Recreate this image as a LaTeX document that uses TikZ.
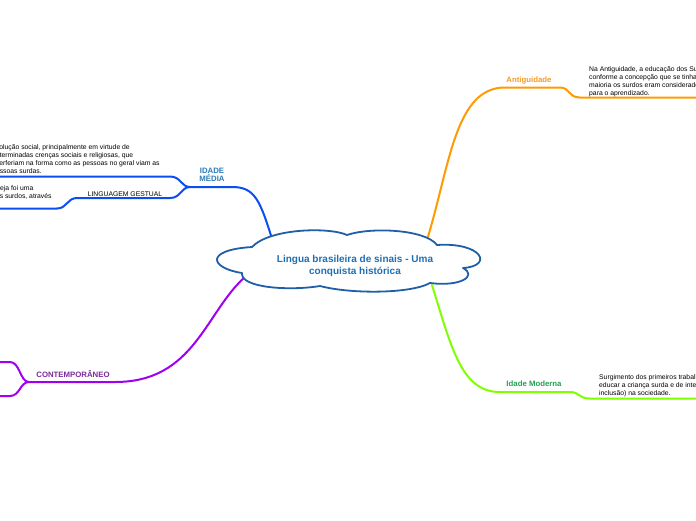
\documentclass[tikz,border=0pt]{standalone}
\usepackage{fontspec}
\setmainfont{Liberation Sans}
\definecolor{rootline}{HTML}{1F5FA8}
\definecolor{roottext}{HTML}{1F6FB5}
\definecolor{medline}{HTML}{0A4EF0}
\definecolor{medtext}{HTML}{2A7AB8}
\definecolor{antline}{HTML}{FF9A00}
\definecolor{anttext}{HTML}{F59A23}
\definecolor{modline}{HTML}{80FF00}
\definecolor{modtext}{HTML}{22A050}
\definecolor{conline}{HTML}{A000F0}
\definecolor{contxt}{HTML}{7A2A9A}

\begin{document}
\begin{tikzpicture}[x=1pt,y=-1pt,
    branch/.style={line width=2pt,line cap=round},
    note/.style={inner sep=0pt,anchor=north west,align=left,font=\fontsize{6.8}{8}\selectfont},
    topic/.style={inner sep=0pt,align=center,font=\bfseries\fontsize{7.8}{8.6}\selectfont}]
  \useasboundingbox (0,0) rectangle (696,520);

  % branch end points
  \coordinate (med-in) at (273,242);
  \coordinate (med-j) at (190,187);
  \coordinate (med-a) at (0,176.5);
  \coordinate (med-b) at (0,208.5);
  \coordinate (ant-in) at (427,240);
  \coordinate (ant-out) at (696,97.5);
  \coordinate (mod-in) at (432,285);
  \coordinate (mod-out) at (696,398.5);
  \coordinate (con-in) at (246,276);
  \coordinate (con-j) at (29,382);
  \coordinate (con-a) at (0,362);
  \coordinate (con-b) at (0,396);

  % Idade Media
  \draw[branch,medline] (med-in) .. controls (260,200) and (255,187) .. (232,187) -- (med-j);
  \draw[branch,medline] (med-j) .. controls (181,187) and (181,176.5) .. (170,176.5) -- (med-a);
  \draw[branch,medline] (med-j) .. controls (181,187) and (181,198) .. (170,198) -- (77,198)
     .. controls (67,198) and (67,208.5) .. (57,208.5) -- (med-b);
  % Antiguidade
  \draw[branch,antline] (ant-in) .. controls (450,165) and (455,87.5) .. (505,87.5) -- (560,87.5)
     .. controls (570,87.5) and (568,97.5) .. (580,97.5) -- (ant-out);
  % Idade Moderna
  \draw[branch,modline] (mod-in) .. controls (452,350) and (462,392) .. (500,392) -- (570,392)
     .. controls (580,392) and (578,398.5) .. (590,398.5) -- (mod-out);
  % Contemporaneo
  \draw[branch,conline] (con-in) .. controls (205,312) and (195,382) .. (115,382) -- (con-j);
  \draw[branch,conline] (con-j) .. controls (20,382) and (20,362) .. (10,362) -- (con-a);
  \draw[branch,conline] (con-j) .. controls (20,382) and (20,396) .. (10,396) -- (con-b);

  % central cloud
  \draw[rootline,line width=1.8pt,fill=white,line join=round]
    (242,273) .. controls (210,268) and (204,250) .. (252,247)
    .. controls (270,228) and (330,227) .. (347,235)
    .. controls (370,227) and (425,229) .. (437,245)
    .. controls (482,242) and (494,266) .. (463,268)
    .. controls (478,276) and (460,287) .. (430,283)
    .. controls (410,294) and (350,294) .. (320,286)
    .. controls (290,291) and (240,288) .. (242,273) -- cycle;
  \node[inner sep=0pt,align=center,text=roottext,font=\bfseries\fontsize{10}{12}\selectfont]
    (root) at (355,265.5) {Lingua brasileira de sinais - Uma\\conquista histórica};

  \node[topic,text=medtext] (med) at (212,175) {IDADE\\MÉDIA};
  \node[topic,text=anttext] (ant) at (529,80) {Antiguidade};
  \node[topic,text=modtext] (mod) at (534,384) {Idade Moderna};
  \node[topic,text=contxt] (con) at (73,374) {CONTEMPORÂNEO};
  \node[inner sep=0pt,font=\fontsize{6.8}{8}\selectfont] (gest) at (125,194.5) {LINGUAGEM GESTUAL};

  \node[note] (med-note) at (-8,144.2) {evolução social, principalmente em virtude de\\
    determinadas crenças sociais e religiosas, que\\
    interferiam na forma como as pessoas no geral viam as\\
    pessoas surdas.};
  \node[note] (gest-note) at (-8,185.8) {Igreja foi uma\\dos surdos, através};
  \node[note] (ant-note) at (589,66.2) {Na Antiguidade, a educação dos Surdos\\
    conforme a concepção que se tinha\\
    maioria os surdos eram considerados\\
    para o aprendizado.};
  \node[note] (mod-note) at (599,374.2) {Surgimento dos primeiros trabalhos\\
    educar a criança surda e de integrar\\
    inclusão) na sociedade.};
\end{tikzpicture}
\end{document}
